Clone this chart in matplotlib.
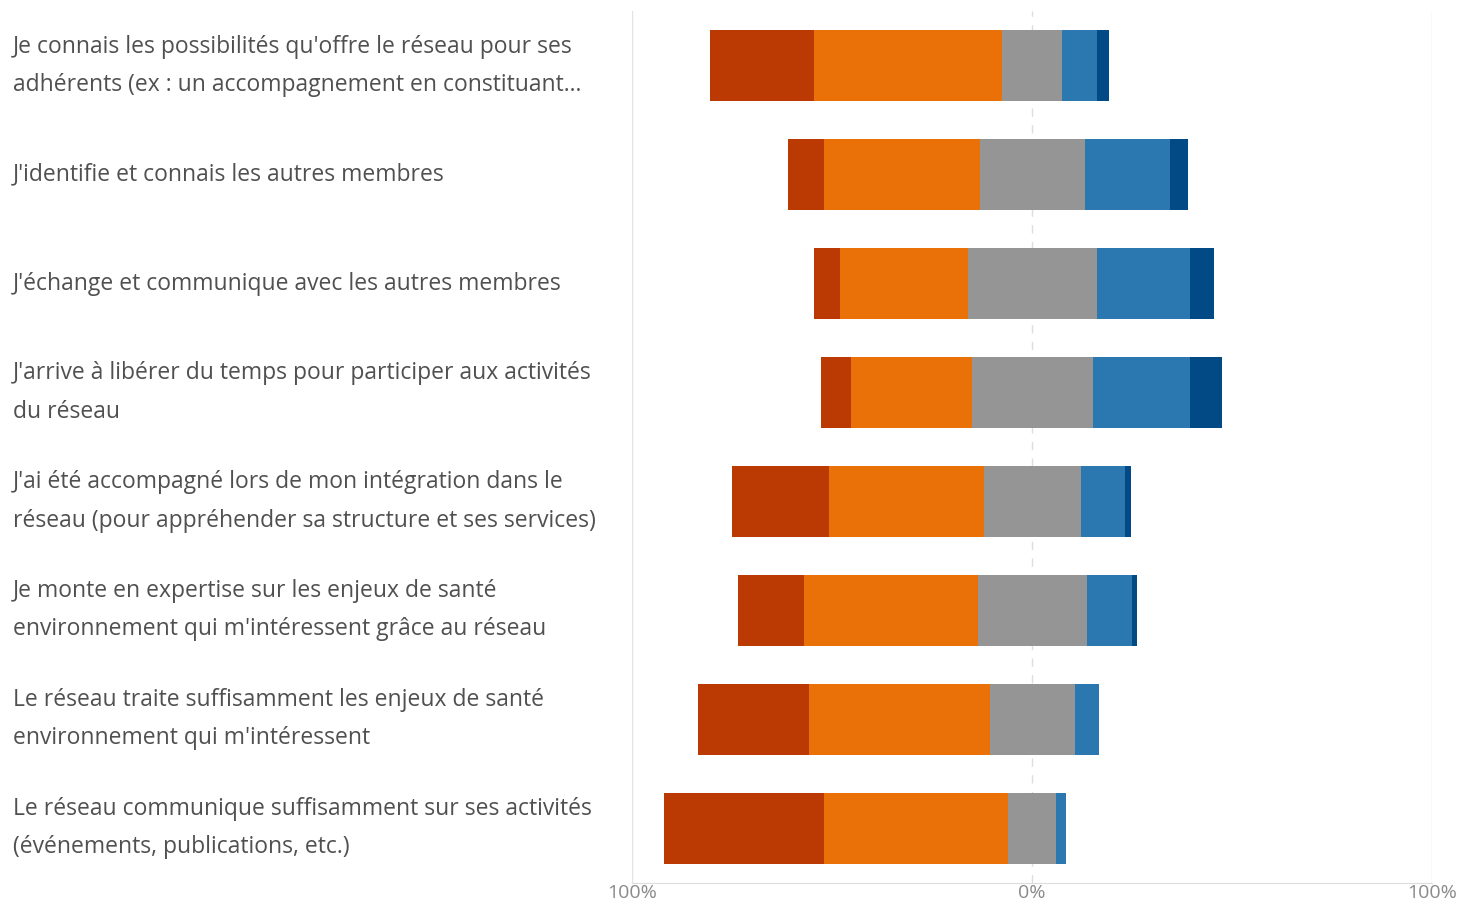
import matplotlib.pyplot as plt
import numpy as np

# statements (top to bottom)
labels = [
    "Je connais les possibilités qu'offre le réseau pour ses\nadhérents (ex : un accompagnement en constituant...",
    "J'identifie et connais les autres membres",
    "J'échange et communique avec les autres membres",
    "J'arrive à libérer du temps pour participer aux activités\ndu réseau",
    "J'ai été accompagné lors de mon intégration dans le\nréseau (pour appréhender sa structure et ses services)",
    "Je monte en expertise sur les enjeux de santé\nenvironnement qui m'intéressent grâce au réseau",
    "Le réseau traite suffisamment les enjeux de santé\nenvironnement qui m'intéressent",
    "Le réseau communique suffisamment sur ses activités\n(événements, publications, etc.)",
]

# percentages per answer level
strongly_disagree = [26, 9, 6.5, 7.5, 24.25, 16.5, 27.75, 40]
disagree = [47, 39, 32, 30.25, 38.75, 43.5, 45.25, 46]
neutral = [15, 26.25, 32.25, 30.25, 24.25, 27.25, 21.25, 12]
agree = [8.75, 21.25, 23.25, 24.25, 11, 11.25, 6, 2.5]
strongly_agree = [3, 4.5, 6, 8, 1.5, 1.25, 0, 0]

colors = ["#BB3A03", "#E97108", "#959595", "#2B78B0", "#014A86"]

plt.rcParams['font.family'] = ['Open Sans', 'DejaVu Sans']

fig = plt.figure(figsize=(14.62, 9.03), dpi=100)
ax = fig.add_axes([632 / 1462, 19 / 903, 800 / 1462, 872 / 903])

y = np.arange(len(labels))
series = [strongly_disagree, disagree, neutral, agree, strongly_agree]
start = -(np.array(strongly_disagree) + np.array(disagree) + np.array(neutral) / 2)
left = start.copy()
for vals, c in zip(series, colors):
    vals = np.array(vals)
    ax.barh(y, vals, left=left, height=0.66, color=c, edgecolor='none')
    left = left + vals

ax.set_xlim(-100, 100)
ax.set_ylim(len(labels) - 0.5, -0.5)

# grid lines
ax.axvline(-100, color='#e3e3e3', lw=1, zorder=0)
ax.axvline(100, color='#e3e3e3', lw=1, zorder=0)
ax.axvline(0, color='#dddddd', lw=1, ls=(0, (6, 6)), zorder=0)

for s in ['top', 'right', 'left']:
    ax.spines[s].set_visible(False)
ax.spines['bottom'].set_color('#dddddd')

ax.set_yticks([])
ax.set_xticks([-100, 0, 100])
ax.set_xticklabels(["100%", "0%", "100%"], color='#8a8a8a', fontsize=14)
ax.tick_params(axis='x', length=0, pad=0)

for i, lab in enumerate(labels):
    fig.text(13 / 1462, 1 - (66 + i * 108.86) / 903, lab, ha='left', va='center',
             fontsize=16.5, color='#505050', linespacing=1.8)

fig.savefig("out.png", dpi=100)
